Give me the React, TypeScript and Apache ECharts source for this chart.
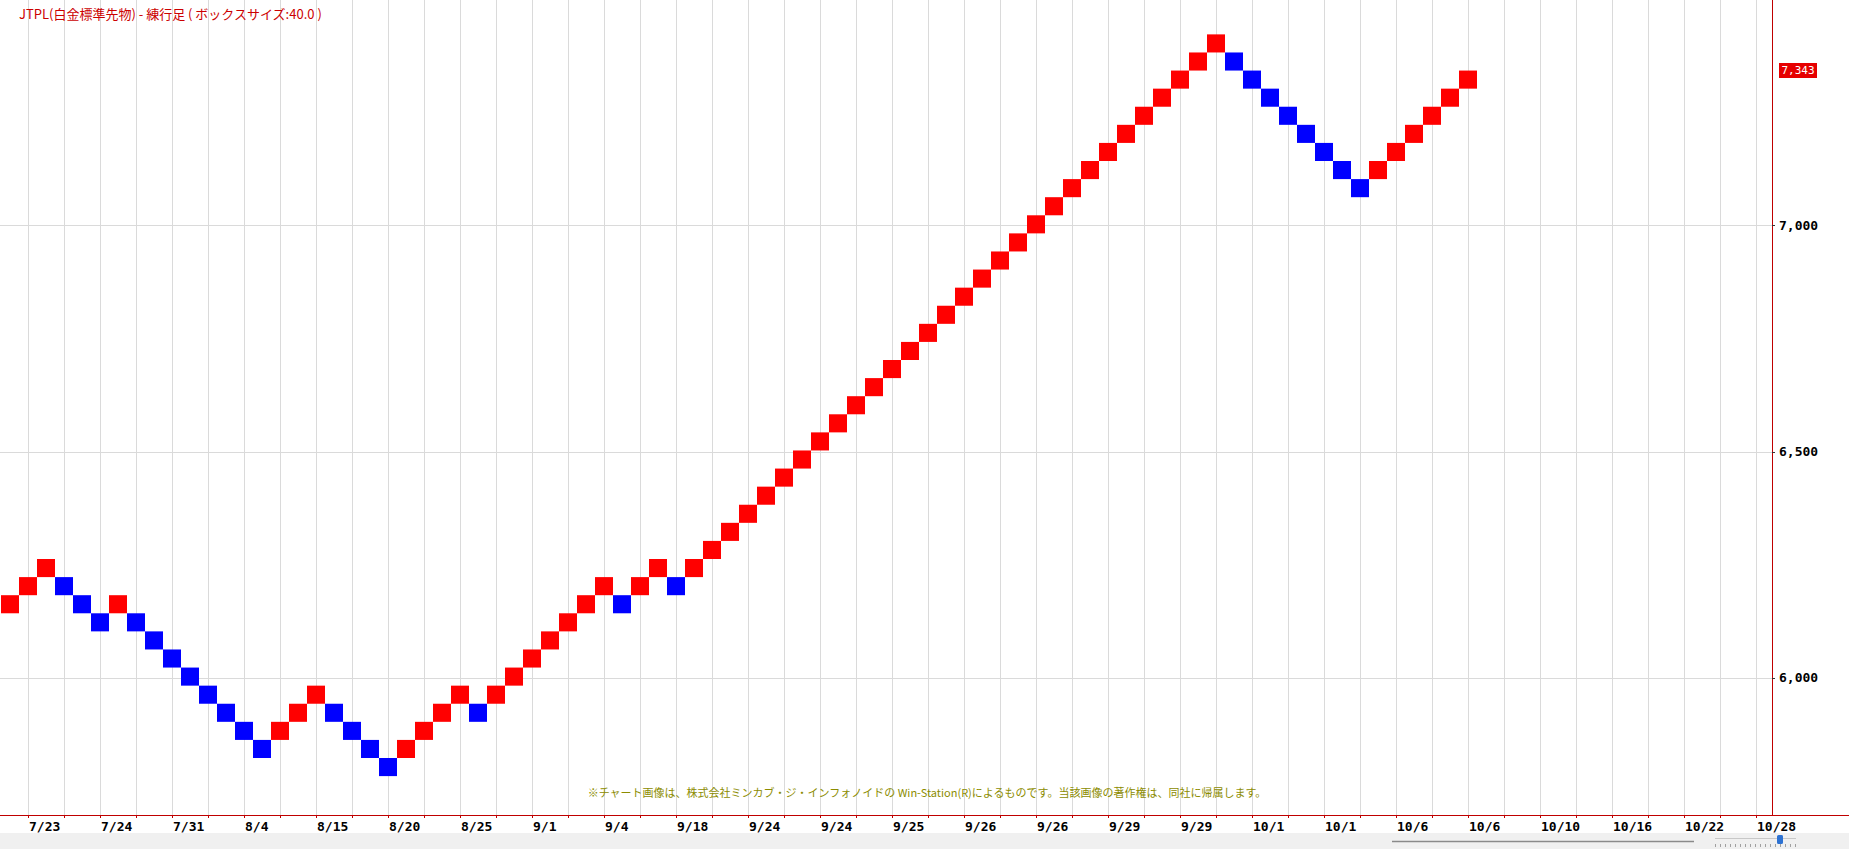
import React, { useEffect, useRef } from "react";
import * as echarts from "echarts";

const TITLE = "JTPL(白金標準先物) - 練行足 ( ボックスサイズ:40.0 )";
const NOTE =
  "※チャート画像は、株式会社ミンカブ・ジ・インフォノイドの Win-Station(R)によるものです。当該画像の著作権は、同社に帰属します。";
const BOX_SIZE = 40;
const LAST_PRICE = 7343;

// lower edge (price) of each renko brick, one brick per column
const brickLows = [
  6143, 6183, 6223, 6183, 6143, 6103, 6143, 6103, 6063, 6023,
  5983, 5943, 5903, 5863, 5823, 5863, 5903, 5943, 5903, 5863,
  5823, 5783, 5823, 5863, 5903, 5943, 5903, 5943, 5983, 6023,
  6063, 6103, 6143, 6183, 6143, 6183, 6223, 6183,
  6223, 6263, 6303, 6343, 6383, 6423, 6463, 6503, 6543, 6583,
  6623, 6663, 6703, 6743, 6783, 6823, 6863, 6903, 6943, 6983,
  7023, 7063, 7103, 7143, 7183, 7223, 7263, 7303, 7343, 7383,
  7343, 7303, 7263, 7223, 7183, 7143, 7103, 7063,
  7103, 7143, 7183, 7223, 7263, 7303,
];

// U = rising (red) brick, D = falling (blue) brick
const brickDirs = [
  "U", "U", "U", "D", "D", "D", "U", "D", "D", "D",
  "D", "D", "D", "D", "D", "U", "U", "U", "D", "D",
  "D", "D", "U", "U", "U", "U", "D", "U", "U", "U",
  "U", "U", "U", "U", "D", "U", "U", "D",
  "U", "U", "U", "U", "U", "U", "U", "U", "U", "U",
  "U", "U", "U", "U", "U", "U", "U", "U", "U", "U",
  "U", "U", "U", "U", "U", "U", "U", "U", "U", "U",
  "D", "D", "D", "D", "D", "D", "D", "D",
  "U", "U", "U", "U", "U", "U",
];

// date labels, one every 4 columns starting at column 1
const dateLabels = [
  "7/23", "7/24", "7/31", "8/4", "8/15", "8/20", "8/25", "9/1", "9/4",
  "9/18", "9/24", "9/24", "9/25", "9/26", "9/26", "9/29", "9/29",
  "10/1", "10/1", "10/6", "10/6", "10/10", "10/16", "10/22", "10/28",
];

const yTicks = [6000, 6500, 7000];

const Y_MIN = 5697;
const Y_MAX = 7499;
const X_MAX = 98.889;

const AXIS_RED = "#c00000";
const UP_COLOR = "#ff0000";
const DOWN_COLOR = "#0000ff";
const GRID_COLOR = "#dadada";

export default function App() {
  const ref = useRef<HTMLDivElement>(null);

  useEffect(() => {
    const chart = echarts.init(ref.current!, null, { renderer: "svg" });
    const data = brickLows.map((lo, i) => [
      i + 1,
      lo,
      lo + BOX_SIZE,
      brickDirs[i] === "U" ? 1 : -1,
    ]);

    chart.setOption({
      animation: false,
      backgroundColor: "#ffffff",
      grid: {
        left: -8,
        right: 77,
        top: 0,
        bottom: 34,
        containLabel: false,
        outerBoundsMode: "none",
      },
      xAxis: {
        type: "value",
        min: 0,
        max: X_MAX,
        interval: 2,
        axisLine: { show: true, onZero: false, lineStyle: { color: AXIS_RED, width: 1 } },
        axisTick: { show: true, length: 3, lineStyle: { color: AXIS_RED } },
        axisLabel: {
          show: true,
          formatter: (v: number) => {
            const k = Math.round(v);
            if (Math.abs(v - k) > 1e-6 || k < 2 || (k - 2) % 4 !== 0) return "";
            return dateLabels[(k - 2) / 4] ?? "";
          },
          align: "left",
          margin: 5,
          padding: [0, 0, 0, 1],
          color: "#000000",
          fontFamily: "DejaVu Sans Mono",
          fontWeight: "bold",
          fontSize: 13,
          hideOverlap: false,
          showMinLabel: true,
          showMaxLabel: false,
        },
        splitLine: {
          show: true,
          showMinLine: false,
          showMaxLine: false,
          lineStyle: { color: GRID_COLOR, width: 1 },
        },
      },
      yAxis: {
        type: "value",
        position: "right",
        min: Y_MIN,
        max: Y_MAX,
        splitNumber: 3,
        axisLine: { show: true, onZero: false, lineStyle: { color: AXIS_RED, width: 1 } },
        axisTick: {
          show: true,
          length: 3,
          customValues: yTicks,
          lineStyle: { color: "#333333" },
        },
        axisLabel: {
          show: true,
          customValues: yTicks,
          formatter: (v: number) => v.toLocaleString("en-US"),
          margin: 7,
          color: "#000000",
          fontFamily: "DejaVu Sans Mono",
          fontWeight: "bold",
          fontSize: 13,
        },
        splitLine: {
          show: true,
          lineStyle: { color: GRID_COLOR, width: 1 },
        },
      },
      series: [
        {
          type: "custom",
          silent: true,
          data,
          encode: { x: 0, y: [1, 2] },
          renderItem: (params: any, api: any) => {
            const x = api.value(0);
            const lo = api.value(1);
            const hi = api.value(2);
            const dir = api.value(3);
            const pTop = api.coord([x, hi]);
            const pBot = api.coord([x, lo]);
            const w = api.size([1, 0])[0];
            return {
              type: "rect",
              shape: {
                x: pTop[0] - w / 2,
                y: pTop[1],
                width: w,
                height: pBot[1] - pTop[1],
              },
              style: { fill: dir > 0 ? UP_COLOR : DOWN_COLOR },
            };
          },
        },
      ],
    });

    const tagY = chart.convertToPixel({ yAxisIndex: 0 }, LAST_PRICE) as number;
    const axisY = chart.convertToPixel({ yAxisIndex: 0 }, Y_MIN) as number;
    const axisX = chart.convertToPixel({ xAxisIndex: 0 }, X_MAX) as number;

    chart.setOption({
      graphic: [
        {
          type: "text",
          id: "title",
          style: {
            text: TITLE,
            x: 19,
            y: 13,
            verticalAlign: "middle",
            font: '13px "Noto Sans CJK JP"',
            fill: "#cc0000",
          },
          z: 10,
        },
        {
          type: "text",
          id: "note",
          style: {
            text: NOTE,
            x: 927,
            y: 792,
            align: "center",
            verticalAlign: "middle",
            font: '11px "Noto Sans CJK JP"',
            fill: "#8c8c00",
          },
          z: 10,
        },
        {
          type: "line",
          id: "axisExt",
          shape: { x1: axisX, y1: axisY + 0.5, x2: 1849, y2: axisY + 0.5 },
          style: { stroke: AXIS_RED, lineWidth: 1 },
          z: 10,
        },
        {
          type: "group",
          id: "priceTag",
          x: axisX + 7,
          y: tagY - 7.5,
          children: [
            {
              type: "rect",
              shape: { x: 0, y: 0, width: 38, height: 15 },
              style: { fill: "#e60000" },
            },
            {
              type: "text",
              style: {
                text: LAST_PRICE.toLocaleString("en-US"),
                x: 19,
                y: 7.5,
                align: "center",
                verticalAlign: "middle",
                font: '11px "DejaVu Sans Mono"',
                fill: "#ffffff",
              },
            },
          ],
          z: 20,
        },
        {
          type: "rect",
          id: "bottomStrip",
          shape: { x: 0, y: 833, width: 1849, height: 16 },
          style: { fill: "#f0f0f0" },
          z: 5,
        },
        {
          type: "line",
          id: "scrollLine",
          shape: { x1: 1392, y1: 841.5, x2: 1694, y2: 841.5 },
          style: { stroke: "#8a8a8a", lineWidth: 1.5 },
          z: 6,
        },
        {
          type: "line",
          id: "zoomTrack",
          shape: { x1: 1715, y1: 838.5, x2: 1796, y2: 838.5 },
          style: { stroke: "#c8c8c8", lineWidth: 1 },
          z: 6,
        },
        {
          type: "line",
          id: "zoomTicks",
          shape: { x1: 1715, y1: 845.5, x2: 1796, y2: 845.5 },
          style: { stroke: "#a0a0a0", lineWidth: 3, lineDash: [1, 4] },
          z: 6,
        },
        {
          type: "rect",
          id: "zoomThumb",
          shape: { x: 1777, y: 835, width: 6, height: 9, r: 1.5 },
          style: { fill: "#2d72d2" },
          z: 7,
        },
        {
          type: "group",
          id: "icons",
          z: 7,
          children: [
            {
              type: "line",
              shape: { x1: 1803, y1: 841.5, x2: 1815, y2: 841.5 },
              style: { stroke: "#000", lineWidth: 1 },
            },
            {
              type: "line",
              shape: { x1: 1809, y1: 836, x2: 1809, y2: 847 },
              style: { stroke: "#cc0000", lineWidth: 1 },
            },
            {
              type: "line",
              shape: { x1: 1819, y1: 836, x2: 1819, y2: 847 },
              style: { stroke: "#000", lineWidth: 1 },
            },
            {
              type: "line",
              shape: { x1: 1829, y1: 836, x2: 1829, y2: 847 },
              style: { stroke: "#cc0000", lineWidth: 1 },
            },
            {
              type: "line",
              shape: { x1: 1819, y1: 841.5, x2: 1829, y2: 841.5 },
              style: { stroke: "#000", lineWidth: 1 },
            },
            {
              type: "rect",
              shape: { x: 1833, y: 834, width: 15, height: 15 },
              style: { fill: "#cfe3f5", stroke: "#7aa7d8", lineWidth: 1 },
            },
            {
              type: "line",
              shape: { x1: 1835, y1: 841.5, x2: 1846, y2: 841.5 },
              style: { stroke: "#2d72d2", lineWidth: 1.5, lineDash: [2, 1.5] },
            },
            {
              type: "line",
              shape: { x1: 1840.5, y1: 836, x2: 1840.5, y2: 847 },
              style: { stroke: "#2d72d2", lineWidth: 1.5, lineDash: [2, 1.5] },
            },
          ],
        },
      ],
    });

    return () => chart.dispose();
  }, []);

  return (
    <div
      ref={ref}
      style={{
        position: "fixed",
        left: 0,
        top: 0,
        width: 1849,
        height: 849,
        background: "#ffffff",
      }}
    />
  );
}
